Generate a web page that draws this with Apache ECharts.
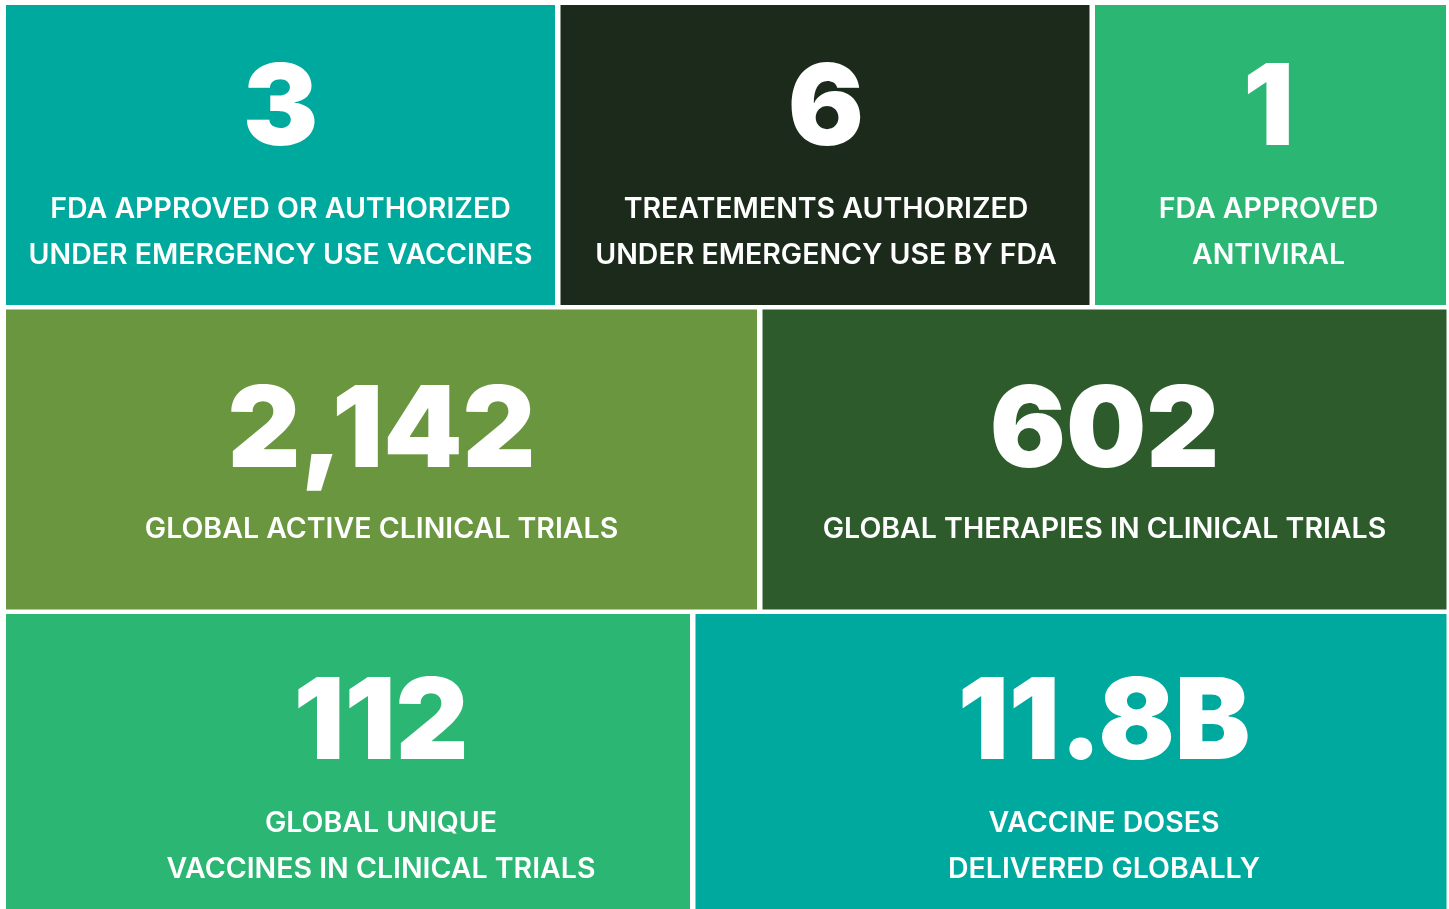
<!DOCTYPE html>
<html>
<head>
<meta charset="utf-8">
<script src="https://cdn.jsdelivr.net/npm/echarts@6/dist/echarts.min.js"></script>
<style>
	html, body { margin: 0; padding: 0; background: #fff; }
	#statsDiv { width: 1449px; height: 909px; }
</style>
</head>
<body>
<div id="statsDiv"></div>
<script>
// figures shown in each tile, row by row
const figures = ['3', '6', '1', '2,142', '602', '112', '11.8B'];
const captions = [
	['FDA APPROVED OR AUTHORIZED', 'UNDER EMERGENCY USE VACCINES'],
	['TREATEMENTS AUTHORIZED', 'UNDER EMERGENCY USE BY FDA'],
	['FDA APPROVED', 'ANTIVIRAL'],
	['GLOBAL ACTIVE CLINICAL TRIALS'],
	['GLOBAL THERAPIES IN CLINICAL TRIALS'],
	['GLOBAL UNIQUE', 'VACCINES IN CLINICAL TRIALS'],
	['VACCINE DOSES', 'DELIVERED GLOBALLY']
];
const tileColors = ['#00a99d', '#1b2a1a', '#2bb673', '#6a963f', '#2d5b2c', '#2bb673', '#00a99d'];

// layout: tiles per row and their widths (in axis units)
const rowTiles = [3, 2, 2];
const rowHeights = [300, 300, 295];
const tileWidths = [549, 529, 351, 751, 684, 684, 751];
// text shifts inside a tile (the bottom row keeps the middle row's centres)
const textDx = [0, 1, -2, 0, 0, 33, 33];
const textDy = [0, 0, 0, 0, 0, 5, 5];
const gap = 5.5;

statsInit = () => {
	let statsChart = echarts.init(document.getElementById('statsDiv'));

	// build rectangles [x0, x1, y0, y1, index] from the layout
	let tiles = [];
	let k = 0, y = 0;
	rowTiles.forEach((n, r) => {
		let x = 0;
		for (let i = 0; i < n; i++) {
			tiles.push([x, x + tileWidths[k], y, y + rowHeights[r], k]);
			x += tileWidths[k] + gap;
			k++;
		}
		y += rowHeights[r] + 4.5;
	});

	let statsOption = {
		backgroundColor: '#ffffff',
		animation: false,
		grid: {
			left: 6,
			right: 3,
			top: 5,
			bottom: 0
		},
		xAxis: {
			show: false,
			type: 'value',
			min: 0,
			max: 1440
		},
		yAxis: {
			show: false,
			type: 'value',
			inverse: true,
			min: 0,
			max: 904
		},
		series: [{
			type: 'custom',
			data: tiles,
			renderItem: function(params, api) {
				let p0 = api.coord([api.value(0), api.value(2)]);
				let p1 = api.coord([api.value(1), api.value(3)]);
				let idx = api.value(4);
				let cx = (p0[0] + p1[0]) / 2 + textDx[idx];
				let top = p0[1] + textDy[idx];
				let lines = captions[idx];
				let numY = lines.length > 1 ? top + 106 : top + 124;
				let capY = lines.length > 1 ? top + 204 : top + 220;
				let children = [{
					type: 'rect',
					shape: { x: p0[0], y: p0[1], width: p1[0] - p0[0], height: p1[1] - p0[1] },
					style: { fill: tileColors[idx] }
				}, {
					type: 'text',
					x: cx,
					y: numY,
					style: {
						text: figures[idx],
						fill: '#ffffff',
						font: '900 113px Inter, "DejaVu Sans", sans-serif',
						align: 'center',
						verticalAlign: 'middle'
					}
				}];
				lines.forEach((t, j) => {
					children.push({
						type: 'text',
						x: cx,
						y: capY + j * 46,
						style: {
							text: t,
							fill: '#ffffff',
							font: '600 28.5px Inter, "Noto Sans", sans-serif',
							align: 'center',
							verticalAlign: 'middle'
						}
					});
				});
				return { type: 'group', children: children };
			}
		}]
	};
	statsChart.setOption(statsOption);
}
statsInit();
</script>
</body>
</html>
